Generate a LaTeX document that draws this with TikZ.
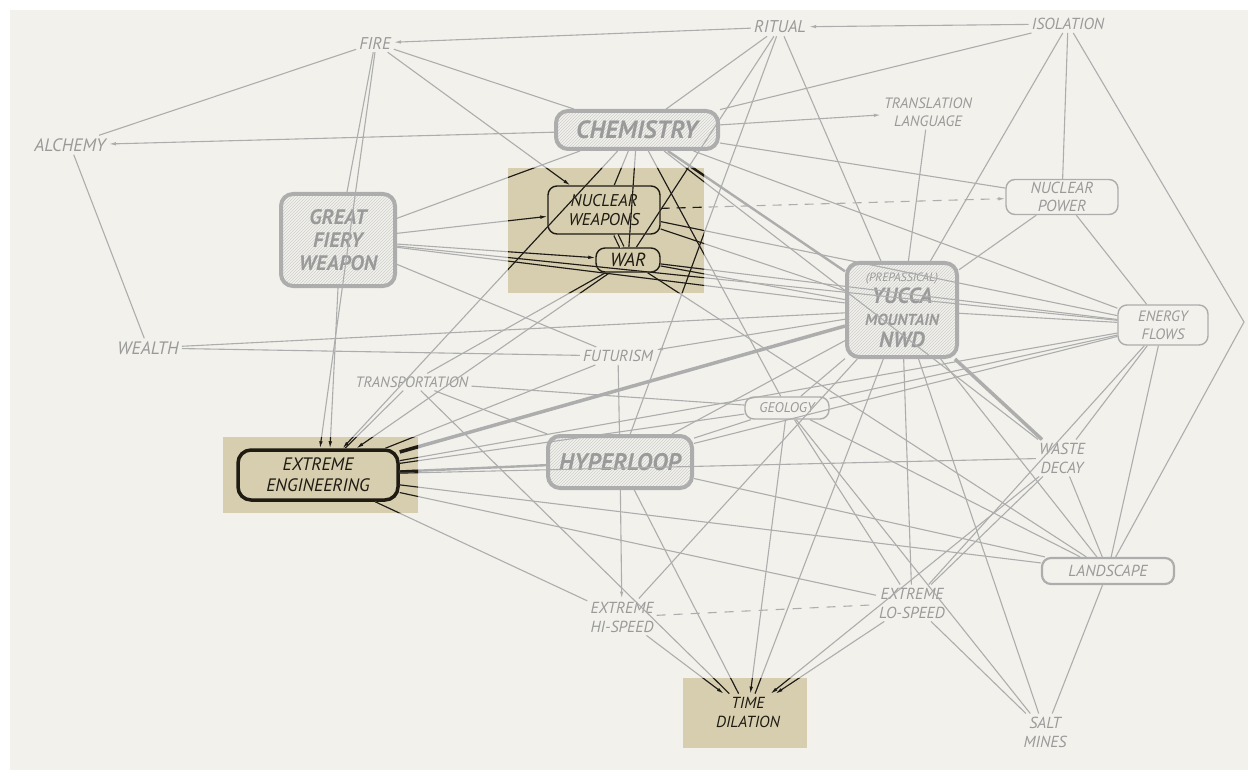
\documentclass[tikz,border=0pt]{standalone}
\usepackage{fontspec}
\setmainfont{PT Sans}
\usetikzlibrary{arrows.meta,patterns}
\definecolor{paper}{HTML}{F2F1EC}
\definecolor{lgray}{HTML}{ADADAD}
\definecolor{tgray}{HTML}{9A9A9A}
\definecolor{hilite}{HTML}{D6CEAE}
\definecolor{ink}{HTML}{1F1A12}
\colorlet{edgecol}{lgray}

\tikzset{
  lab/.style={font=\itshape, text=tgray, align=center, inner sep=3pt},
  hub/.style={draw=lgray, line width=4pt, rounded corners=12pt, pattern=north east lines,
    pattern color=lgray!60, text=tgray, align=center, font=\itshape\bfseries, inner sep=0pt},
  thinbox/.style={draw=lgray, line width=1.4pt, rounded corners=9pt, text=tgray,
    align=center, font=\itshape, inner sep=0pt},
  inkbox/.style={draw=ink, line width=1.4pt, rounded corners=9pt, text=ink,
    align=center, font=\itshape, inner sep=0pt},
  e/.style={draw=edgecol, line width=1.1pt},
  ea/.style={e, -{Latex[length=7pt,width=3.5pt]}},
  eb/.style={draw=edgecol, line width=3.5pt},
  ec/.style={draw=edgecol, line width=2.4pt},
}

% every connector of the map, drawn in the current edge colour
\newcommand\alledges{%
  % top row
  \draw[ea] (ritual) -- (fire);
  \draw[ea] (isol) -- (ritual);
  \draw[ea] (chem) -- (alch);
  \draw[e] (fire) -- (alch);
  \draw[e] (alch) -- (wealth);
  \draw[e] (fire) -- (chem);
  \draw[ea] (fire) -- (nw);
  \draw[e] (fire) -- (gfw);
  \draw[ea] (fire.south) -- (eeleft);
  % chemistry
  \draw[e] (chem) -- (nw);
  \draw[e] (chem) -- (gfw);
  \draw[ea] (chem) -- (transl);
  \draw[e] (chem) -- (npow);
  \draw[e] (chem) -- (energy);
  \draw[ec] (chem) -- (yucca);
  \draw[e] (chem) -- (war);
  \draw[e] (chem) -- (geol);
  \draw[e] (chem) -- (waste);
  \draw[ea] (chem) -- (ee);
  % ritual and isolation
  \draw[e] (ritual) -- (chem);
  \draw[e] (ritual) -- (war);
  \draw[e] (ritual) -- (yucca);
  \draw[e] (ritual) -- (hyper);
  \draw[e] (isol) -- (chem);
  \draw[e] (isol) -- (npow);
  \draw[e] (isol) -- (yucca);
  \draw[e] (isol) -- (rbend) -- (land);
  \draw[e] (transl) -- (yucca);
  % great fiery weapon
  \draw[ea] (gfw) -- (nw);
  \draw[ea] (gfw) -- (war);
  \draw[e] (gfw) -- (yucca);
  \draw[e] (gfw) -- (energy);
  \draw[e] (gfw) -- (futur);
  \draw[ea] (gfw.south) -- (eeright);
  % nuclear weapons and war
  \draw[ea, dashed, dash pattern=on 9pt off 7pt] (nw) -- (npow);
  \draw[draw=edgecol, line width=1.2pt, double=hilite, double distance=3pt] (nw) -- (war);
  \draw[e] (nw) -- (yucca);
  \draw[e] (nw) -- (energy);
  \draw[e] (war) -- (yucca);
  \draw[ea] (war) -- (ee);
  \draw[e] (war) -- (energy);
  \draw[e] (war) -- (transp);
  \draw[e] (war) -- (land);
  \draw[e] (wealth) -- (yucca);
  \draw[e] (wealth) -- (futur);
  % yucca mountain
  \draw[e] (yucca) -- (geol);
  \draw[eb] (yucca) -- (ee);
  \draw[eb] (yucca) -- (waste);
  \draw[e] (yucca) -- (land);
  \draw[e] (yucca) -- (salt);
  \draw[e] (yucca) -- (lospeed);
  \draw[e] (yucca) -- (timedil);
  \draw[e] (yucca) -- (hispeed);
  \draw[ea] (yucca) -- (futur);
  \draw[e] (yucca) -- (energy);
  \draw[e] (yucca) -- (npow);
  \draw[e] (yucca) -- (hyper);
  % extreme engineering
  \draw[ec] (ee) -- (hyper);
  \draw[e] (ee) -- (geol);
  \draw[e] (ee) -- (energy);
  \draw[e] (ee) -- (waste);
  \draw[e] (ee) -- (land);
  \draw[e] (ee) -- (lospeed);
  \draw[e] (ee) -- (hispeed);
  \draw[e] (ee) -- (transp);
  \draw[e] (ee) -- (futur);
  % hyperloop
  \draw[ea] (hyper) -- (hispeed);
  \draw[e] (hyper) -- (timedil);
  \draw[e] (hyper) -- (land);
  \draw[e] (hyper) -- (energy);
  \draw[e] (hyper) -- (geol);
  \draw[e] (hyper) -- (futur);
  \draw[e] (hyper) -- (transp);
  % lower half
  \draw[ea] (hispeed) -- (timedil);
  \draw[ea] (lospeed) -- (timedil);
  \draw[ea] (geol) -- (timedil);
  \draw[e] (geol) -- (land);
  \draw[e] (geol) -- (salt);
  \draw[e] (geol) -- (lospeed);
  \draw[e] (geol) -- (energy);
  \draw[e] (transp) -- (geol);
  \draw[e] (transp) -- (timedil);
  \draw[e] (waste) -- (land);
  \draw[e] (waste) -- (lospeed);
  \draw[ea] (waste) -- (timedil);
  \draw[e] (energy) -- (waste);
  \draw[e] (energy) -- (land);
  \draw[e] (energy) -- (lospeed);
  \draw[e] (npow) -- (energy);
  \draw[e] (land) -- (salt);
  \draw[e] (lospeed) -- (salt);
  \draw[e, dashed, dash pattern=on 9pt off 8pt] (hispeed) -- (lospeed);
}

\begin{document}
\begin{tikzpicture}[x=1pt, y=-1pt]
  \useasboundingbox (0,0) rectangle (1248,770);
  \fill[white] (0,0) rectangle (1248,770);
  \fill[paper] (10,10) rectangle (1248,770);

  % highlighted patches
  \fill[hilite] (508,168) rectangle (704,293);
  \fill[hilite] (223,437) rectangle (418,513);
  \fill[hilite] (683,678) rectangle (807,748);

  % plain labels
  \node[lab, font=\itshape\fontsize{17}{17}\selectfont] (fire) at (375,43) {FIRE};
  \node[lab, font=\itshape\fontsize{17}{17}\selectfont] (ritual) at (780,27) {RITUAL};
  \node[lab, font=\itshape\fontsize{16}{16}\selectfont] (isol) at (1068,24) {ISOLATION};
  \node[lab, font=\itshape\fontsize{18}{18}\selectfont] (alch) at (70,145) {ALCHEMY};
  \node[lab, font=\itshape\fontsize{15}{18}\selectfont] (transl) at (928,112) {TRANSLATION\\LANGUAGE};
  \node[lab, font=\itshape\fontsize{18}{18}\selectfont] (wealth) at (148,348) {WEALTH};
  \node[lab, font=\itshape\fontsize{16}{16}\selectfont] (futur) at (618,356) {FUTURISM};
  \node[lab, font=\itshape\fontsize{15}{15}\selectfont] (transp) at (412,382) {TRANSPORTATION};
  \node[lab, font=\itshape\fontsize{16}{19}\selectfont] (waste) at (1062,458) {WASTE\\DECAY};
  \node[lab, font=\itshape\fontsize{16}{19}\selectfont] (hispeed) at (622,617) {EXTREME\\HI-SPEED};
  \node[lab, font=\itshape\fontsize{16}{19}\selectfont] (lospeed) at (912,603) {EXTREME\\LO-SPEED};
  \node[lab, font=\itshape\fontsize{16}{19}\selectfont] (salt) at (1045,732) {SALT\\MINES};
  \node[lab, text=ink, font=\itshape\fontsize{16}{19}\selectfont] (timedil) at (748,712) {TIME\\DILATION};

  % hatched hubs
  \node[hub, minimum width=162pt, minimum height=38pt, font=\itshape\bfseries\fontsize{25}{25}\selectfont]
    (chem) at (637,130) {CHEMISTRY};
  \node[hub, minimum width=114pt, minimum height=92pt, font=\itshape\bfseries\fontsize{21}{23}\selectfont]
    (gfw) at (338,240) {GREAT\\FIERY\\WEAPON};
  \node[hub, minimum width=110pt, minimum height=94pt, font=\itshape\bfseries\fontsize{22}{22}\selectfont]
    (yucca) at (902,310) {{\mdseries\fontsize{12}{13}\selectfont (PREPASSICAL)}\\YUCCA\\{\fontsize{16}{18}\selectfont MOUNTAIN}\\NWD};
  \node[hub, minimum width=144pt, minimum height=52pt, font=\itshape\bfseries\fontsize{24}{24}\selectfont]
    (hyper) at (620,462) {HYPERLOOP};

  % outlined boxes
  \node[thinbox, minimum width=112pt, minimum height=35pt, font=\itshape\fontsize{16}{18}\selectfont]
    (npow) at (1062,197) {NUCLEAR\\POWER};
  \node[thinbox, minimum width=90pt, minimum height=40pt, font=\itshape\fontsize{15}{18}\selectfont]
    (energy) at (1163,325) {ENERGY\\FLOWS};
  \node[thinbox, minimum width=84pt, minimum height=22pt, font=\itshape\fontsize{14}{14}\selectfont]
    (geol) at (787,408) {GEOLOGY};
  \node[thinbox, line width=2.2pt, minimum width=132pt, minimum height=26pt, font=\itshape\fontsize{16}{16}\selectfont]
    (land) at (1108,571) {LANDSCAPE};
  \node[inkbox, minimum width=112pt, minimum height=48pt, font=\itshape\fontsize{17}{19}\selectfont]
    (nw) at (604,210) {NUCLEAR\\WEAPONS};
  \node[inkbox, minimum width=64pt, minimum height=24pt, font=\itshape\fontsize{19}{19}\selectfont]
    (war) at (628,260) {WAR};
  \node[inkbox, line width=3.5pt, rounded corners=13pt, minimum width=160pt, minimum height=50pt,
    font=\itshape\fontsize{18}{21}\selectfont]
    (ee) at (318,475) {EXTREME\\ENGINEERING};

  \coordinate (rbend) at (1244,322);
  \coordinate (eeleft) at ([xshift=2pt]ee.north);
  \coordinate (eeright) at ([xshift=12pt]ee.north);

  % connectors in grey everywhere ...
  \alledges
  % ... and in ink across the highlighted patches
  \begin{scope}
    \colorlet{edgecol}{ink}
    \clip (508,168) rectangle (704,293)
          (223,437) rectangle (418,513)
          (683,678) rectangle (807,748);
    \alledges
  \end{scope}
\end{tikzpicture}
\end{document}
